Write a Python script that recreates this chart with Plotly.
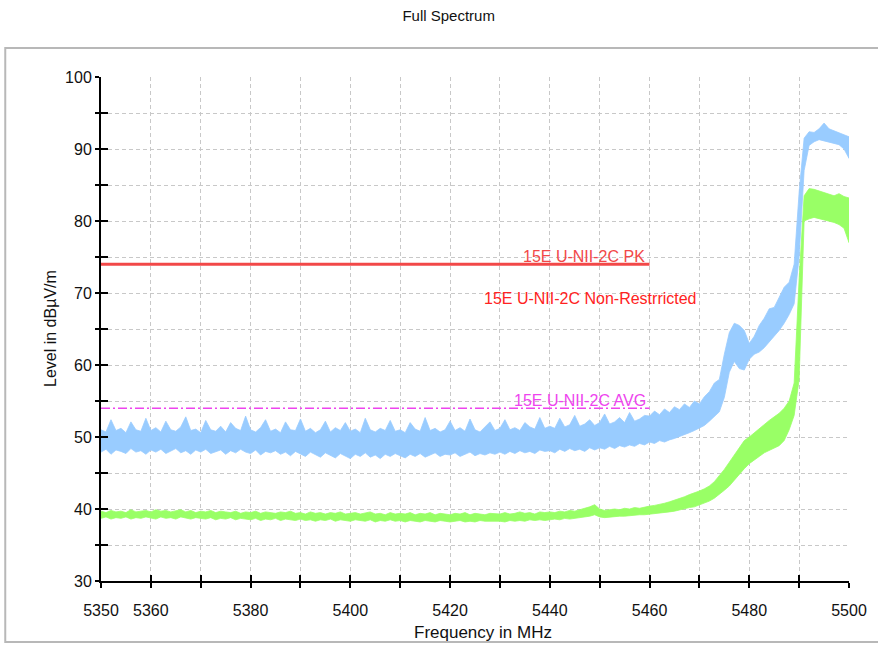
import numpy as np
import plotly.graph_objects as go

# Frequency grid of the envelope samples (1 MHz steps, 5350-5500 MHz)
freq_mhz = list(np.arange(5350, 5501, 1))

# Peak detector trace: upper / lower envelope in dBuV/m
peak_upper = [
    51.0, 50.7, 52.4, 50.9, 51.2, 50.6, 52.1, 51.0, 50.8, 52.6,
    50.9, 51.3, 50.7, 52.2, 51.0, 50.8, 51.4, 52.8, 50.9, 51.1,
    50.6, 52.3, 51.0, 50.8, 51.5, 50.7, 52.0, 51.2, 50.9, 52.9,
    51.0, 50.7, 51.3, 52.4, 50.8, 51.1, 50.6, 52.1, 51.0, 50.9,
    52.5, 50.8, 51.2, 50.6, 51.0, 52.2, 50.7, 51.3, 50.9, 52.0,
    50.8, 51.1, 50.6, 52.6, 51.0, 50.7, 51.2, 50.9, 52.3, 50.8,
    51.0, 50.6, 52.0, 51.1, 50.8, 52.7, 50.9, 51.2, 50.7, 51.0,
    52.2, 50.9, 51.3, 50.8, 52.5, 51.0, 50.7, 51.4, 52.1, 50.9,
    51.2, 52.4, 51.0, 51.3, 50.9, 52.0, 51.4, 51.1, 52.7, 51.2,
    51.5, 51.2, 52.6, 51.4, 51.7, 53.0, 51.5, 51.8, 52.4, 51.6,
    52.0, 53.2, 51.8, 52.1, 52.7, 52.0, 53.4, 52.2, 52.5, 53.0,
    52.9, 53.6, 53.1, 53.9, 53.4, 54.2, 53.8, 54.6, 54.1, 55.0,
    54.6, 55.6, 56.3, 57.5, 58.0, 61.5, 64.5, 65.8, 65.5, 64.8,
    63.0, 64.0, 65.5, 66.5, 67.8, 68.0, 69.5, 70.8, 71.5, 74.0,
    84.0, 91.5, 92.4, 92.3, 92.8, 93.6, 92.8, 92.5, 92.2, 92.0,
    91.7,
]
peak_lower = [
    47.9, 48.3, 47.6, 48.2, 48.0, 47.7, 48.4, 47.9, 48.1, 47.6,
    48.2, 47.9, 48.3, 47.7, 48.0, 48.4, 47.8, 48.1, 47.6, 48.2,
    47.9, 48.3, 47.7, 48.0, 48.2, 47.6, 48.1, 47.8, 48.3, 47.9,
    47.7, 48.2, 47.5, 48.0, 47.8, 48.1, 47.6, 47.9, 47.4, 48.0,
    47.7, 47.3, 47.9, 47.6, 47.2, 47.8, 47.5, 47.1, 47.7, 47.4,
    47.0, 47.6, 47.3, 47.8, 47.2, 47.5, 47.0, 47.6, 47.3, 47.7,
    47.4, 47.1, 47.6, 47.3, 47.7, 47.2, 47.5, 47.8, 47.3, 47.6,
    47.5, 47.8, 47.3, 47.6, 47.9, 47.4, 47.7, 47.5, 47.8, 47.6,
    47.9, 47.6, 48.0, 47.7, 48.1, 47.8, 48.0, 47.7, 48.2, 48.0,
    48.1, 47.8, 48.3, 48.0, 48.4, 48.1, 48.3, 48.0, 48.5, 48.2,
    48.5, 48.3, 48.7, 48.4, 48.8, 48.6, 48.9, 48.7, 49.1, 48.9,
    49.3, 49.1, 49.5, 49.3, 49.6, 49.8, 50.0, 50.3, 50.6, 50.9,
    51.2, 51.6, 52.2, 52.8, 53.5, 55.5, 59.0, 60.5, 59.5, 59.3,
    60.8, 61.5, 61.8, 62.4, 63.2, 64.0, 64.8, 65.8, 67.0, 68.5,
    75.0, 87.0, 90.5, 91.0, 91.3, 91.2, 91.0, 90.8, 90.6, 90.0,
    88.7,
]

# Average detector trace: upper / lower envelope in dBuV/m
avg_upper = [
    39.7, 39.5, 39.8, 39.6, 39.7, 39.5, 39.9, 39.6, 39.7, 39.8,
    39.6, 39.9, 39.7, 39.8, 39.6, 39.7, 39.9, 39.6, 39.8, 39.5,
    39.7, 39.6, 39.8, 39.5, 39.7, 39.6, 39.5, 39.7, 39.4, 39.6,
    39.5, 39.7, 39.4, 39.6, 39.5, 39.4, 39.6, 39.5, 39.7, 39.4,
    39.5, 39.3, 39.6, 39.4, 39.5, 39.3, 39.5, 39.4, 39.6, 39.3,
    39.4, 39.5, 39.3, 39.4, 39.6, 39.3, 39.4, 39.2, 39.5, 39.3,
    39.4, 39.3, 39.5, 39.2, 39.4, 39.3, 39.5, 39.2, 39.4, 39.3,
    39.2, 39.4, 39.3, 39.5, 39.2, 39.4, 39.3, 39.2, 39.4, 39.3,
    39.3, 39.5, 39.3, 39.4, 39.6, 39.4, 39.5, 39.3, 39.6, 39.5,
    39.6, 39.5, 39.7, 39.6, 39.8, 39.7, 39.9, 40.0, 40.3, 40.6,
    40.0, 39.8, 39.9, 40.0, 39.9, 40.1, 40.0, 40.2, 40.1, 40.3,
    40.4, 40.5, 40.6, 40.8, 41.0, 41.2, 41.5, 41.7, 42.0, 42.2,
    42.5, 42.8, 43.2, 43.8, 44.6, 45.5, 46.5, 47.5, 48.5, 49.5,
    50.0, 50.6, 51.2, 51.8, 52.3, 52.8, 53.3, 54.0, 55.0, 57.5,
    72.0, 83.5, 84.5, 84.4, 84.2, 84.0, 83.8, 83.5, 83.8, 83.4,
    83.2,
]
avg_lower = [
    38.7, 38.9, 38.6, 38.8, 38.7, 38.9, 38.6, 38.8, 38.7, 38.9,
    38.8, 38.6, 38.9, 38.7, 38.8, 38.6, 38.9, 38.7, 38.6, 38.8,
    38.7, 38.6, 38.8, 38.5, 38.7, 38.6, 38.8, 38.5, 38.7, 38.6,
    38.5, 38.7, 38.4, 38.6, 38.5, 38.7, 38.4, 38.6, 38.5, 38.4,
    38.6, 38.4, 38.5, 38.3, 38.5, 38.4, 38.6, 38.3, 38.5, 38.4,
    38.3, 38.5, 38.4, 38.3, 38.5, 38.2, 38.4, 38.3, 38.5, 38.3,
    38.4, 38.2, 38.4, 38.3, 38.2, 38.4, 38.3, 38.2, 38.4, 38.3,
    38.2, 38.3, 38.4, 38.2, 38.3, 38.2, 38.4, 38.3, 38.2, 38.3,
    38.3, 38.2, 38.4, 38.3, 38.4, 38.3, 38.5, 38.4, 38.5, 38.4,
    38.5, 38.6, 38.5, 38.7, 38.6, 38.7, 38.8, 38.9, 39.0, 39.2,
    38.9, 38.8, 38.9, 38.9, 39.0, 39.0, 39.1, 39.1, 39.2, 39.2,
    39.2, 39.3, 39.4, 39.5, 39.6, 39.7, 39.9, 40.0, 40.2, 40.3,
    40.5, 40.8, 41.1, 41.5, 42.0, 42.6, 43.2, 44.0, 44.8, 45.6,
    46.3, 46.8, 47.3, 47.8, 48.2, 48.5, 48.8, 49.5, 51.0, 53.0,
    58.0, 80.0, 80.3, 80.5, 80.3, 80.1, 80.0, 79.8, 79.5, 79.0,
    77.0,
]

# Limit lines
limit_freq = [5350, 5460]
pk_limit = 74.0
avg_limit = 54.0

# Axis ticks
x_tickvals = list(range(5350, 5501, 10))
x_ticktext = ["5350", "5360", "", "5380", "", "5400", "", "5420", "",
              "5440", "", "5460", "", "5480", "", "5500"]
y_tickvals = list(range(30, 101, 5))
y_ticktext = [str(v) if v % 10 == 0 else "" for v in y_tickvals]

PEAK_COLOR = "#99ccff"
AVG_COLOR = "#99ff66"
FONT = "Liberation Sans, Arial, sans-serif"


def band(x, upper, lower):
    return x + x[::-1], upper + lower[::-1]


fig = go.Figure()

bx, by = band(freq_mhz, peak_upper, peak_lower)
fig.add_trace(go.Scatter(x=bx, y=by, fill="toself", fillcolor=PEAK_COLOR,
                         mode="lines", line=dict(color=PEAK_COLOR, width=0.8),
                         hoverinfo="skip", showlegend=False))
bx, by = band(freq_mhz, avg_upper, avg_lower)
fig.add_trace(go.Scatter(x=bx, y=by, fill="toself", fillcolor=AVG_COLOR,
                         mode="lines", line=dict(color=AVG_COLOR, width=0.8),
                         hoverinfo="skip", showlegend=False))

# Limit lines
fig.add_trace(go.Scatter(x=limit_freq, y=[pk_limit, pk_limit], mode="lines",
                         line=dict(color="#f24848", width=3),
                         hoverinfo="skip", showlegend=False))
fig.add_trace(go.Scatter(x=limit_freq, y=[avg_limit, avg_limit], mode="lines",
                         line=dict(color="#ee44ee", width=1.5, dash="9px,3px,2px,3px"),
                         hoverinfo="skip", showlegend=False))

# Empty trace on the overlay axes that carry the inner half of the ticks
fig.add_trace(go.Scatter(x=[None], y=[None], xaxis="x2", yaxis="y2",
                         hoverinfo="skip", showlegend=False))

grid = dict(showgrid=True, gridcolor="#c8c8c8", gridwidth=1, griddash="4px,3px")

fig.update_layout(
    width=878, height=646,
    margin=dict(l=101, r=29, t=77, b=65),
    paper_bgcolor="white", plot_bgcolor="white",
    font=dict(family=FONT, size=16, color="#111111"),
    title=dict(text="Full Spectrum", x=0.511, xref="container", xanchor="center",
               y=1 - 16 / 646, yref="container", yanchor="middle",
               font=dict(family=FONT, size=15, color="#111111")),
    xaxis=dict(range=[5350, 5500], tickmode="array", tickvals=x_tickvals,
               ticktext=x_ticktext, ticks="outside", ticklen=5, tickwidth=1.5,
               tickcolor="black", showline=True, linecolor="black", linewidth=2,
               ticklabelstandoff=9, zeroline=False, **grid),
    yaxis=dict(range=[30, 100], tickmode="array", tickvals=y_tickvals,
               ticktext=y_ticktext, ticks="outside", ticklen=4, tickwidth=1.5,
               tickcolor="black", showline=True, linecolor="black", linewidth=2,
               zeroline=False, **grid),
    xaxis2=dict(range=[5350, 5500], overlaying="x", anchor="y2", side="bottom",
                tickmode="array", tickvals=x_tickvals, ticks="inside", ticklen=6,
                tickwidth=1.5, tickcolor="black", showticklabels=False,
                showgrid=False, zeroline=False, showline=False),
    yaxis2=dict(range=[30, 100], overlaying="y", anchor="x2", side="left",
                tickmode="array", tickvals=y_tickvals, ticks="inside", ticklen=7,
                tickwidth=1.5, tickcolor="black", showticklabels=False,
                showgrid=False, zeroline=False, showline=False),
    showlegend=False,
)

# Outer frame around the chart body
fig.add_shape(type="rect", xref="paper", yref="paper",
              x0=-0.128, x1=1.2, y0=-0.121, y1=1.0575,
              line=dict(color="#b8b8b8", width=2), layer="below")

# Axis titles
fig.add_annotation(text="Frequency in MHz", xref="paper", yref="paper",
                   x=(483 - 101) / 748, y=(581 - 632) / 504, showarrow=False,
                   xanchor="center", yanchor="middle", font=dict(size=17))
fig.add_annotation(text="Level in dBµV/m", xref="paper", yref="paper",
                   x=(50 - 101) / 748, y=0.5, textangle=-90, showarrow=False,
                   xanchor="center", yanchor="middle", font=dict(size=16))

# Limit labels
fig.add_annotation(text="15E U-NII-2C PK", x=5459.5, y=pk_limit + 1.1,
                   xanchor="right", yanchor="middle", showarrow=False,
                   font=dict(size=16, color="#f24848"))
fig.add_annotation(text="15E U-NII-2C Non-Restrricted", x=5448.2, y=69.3,
                   xanchor="center", yanchor="middle", showarrow=False,
                   font=dict(size=16, color="#ff2222"))
fig.add_annotation(text="15E U-NII-2C AVG", x=5459.7, y=avg_limit + 1.1,
                   xanchor="right", yanchor="middle", showarrow=False,
                   font=dict(size=16, color="#ee44ee"))

fig.write_html("out.html")
